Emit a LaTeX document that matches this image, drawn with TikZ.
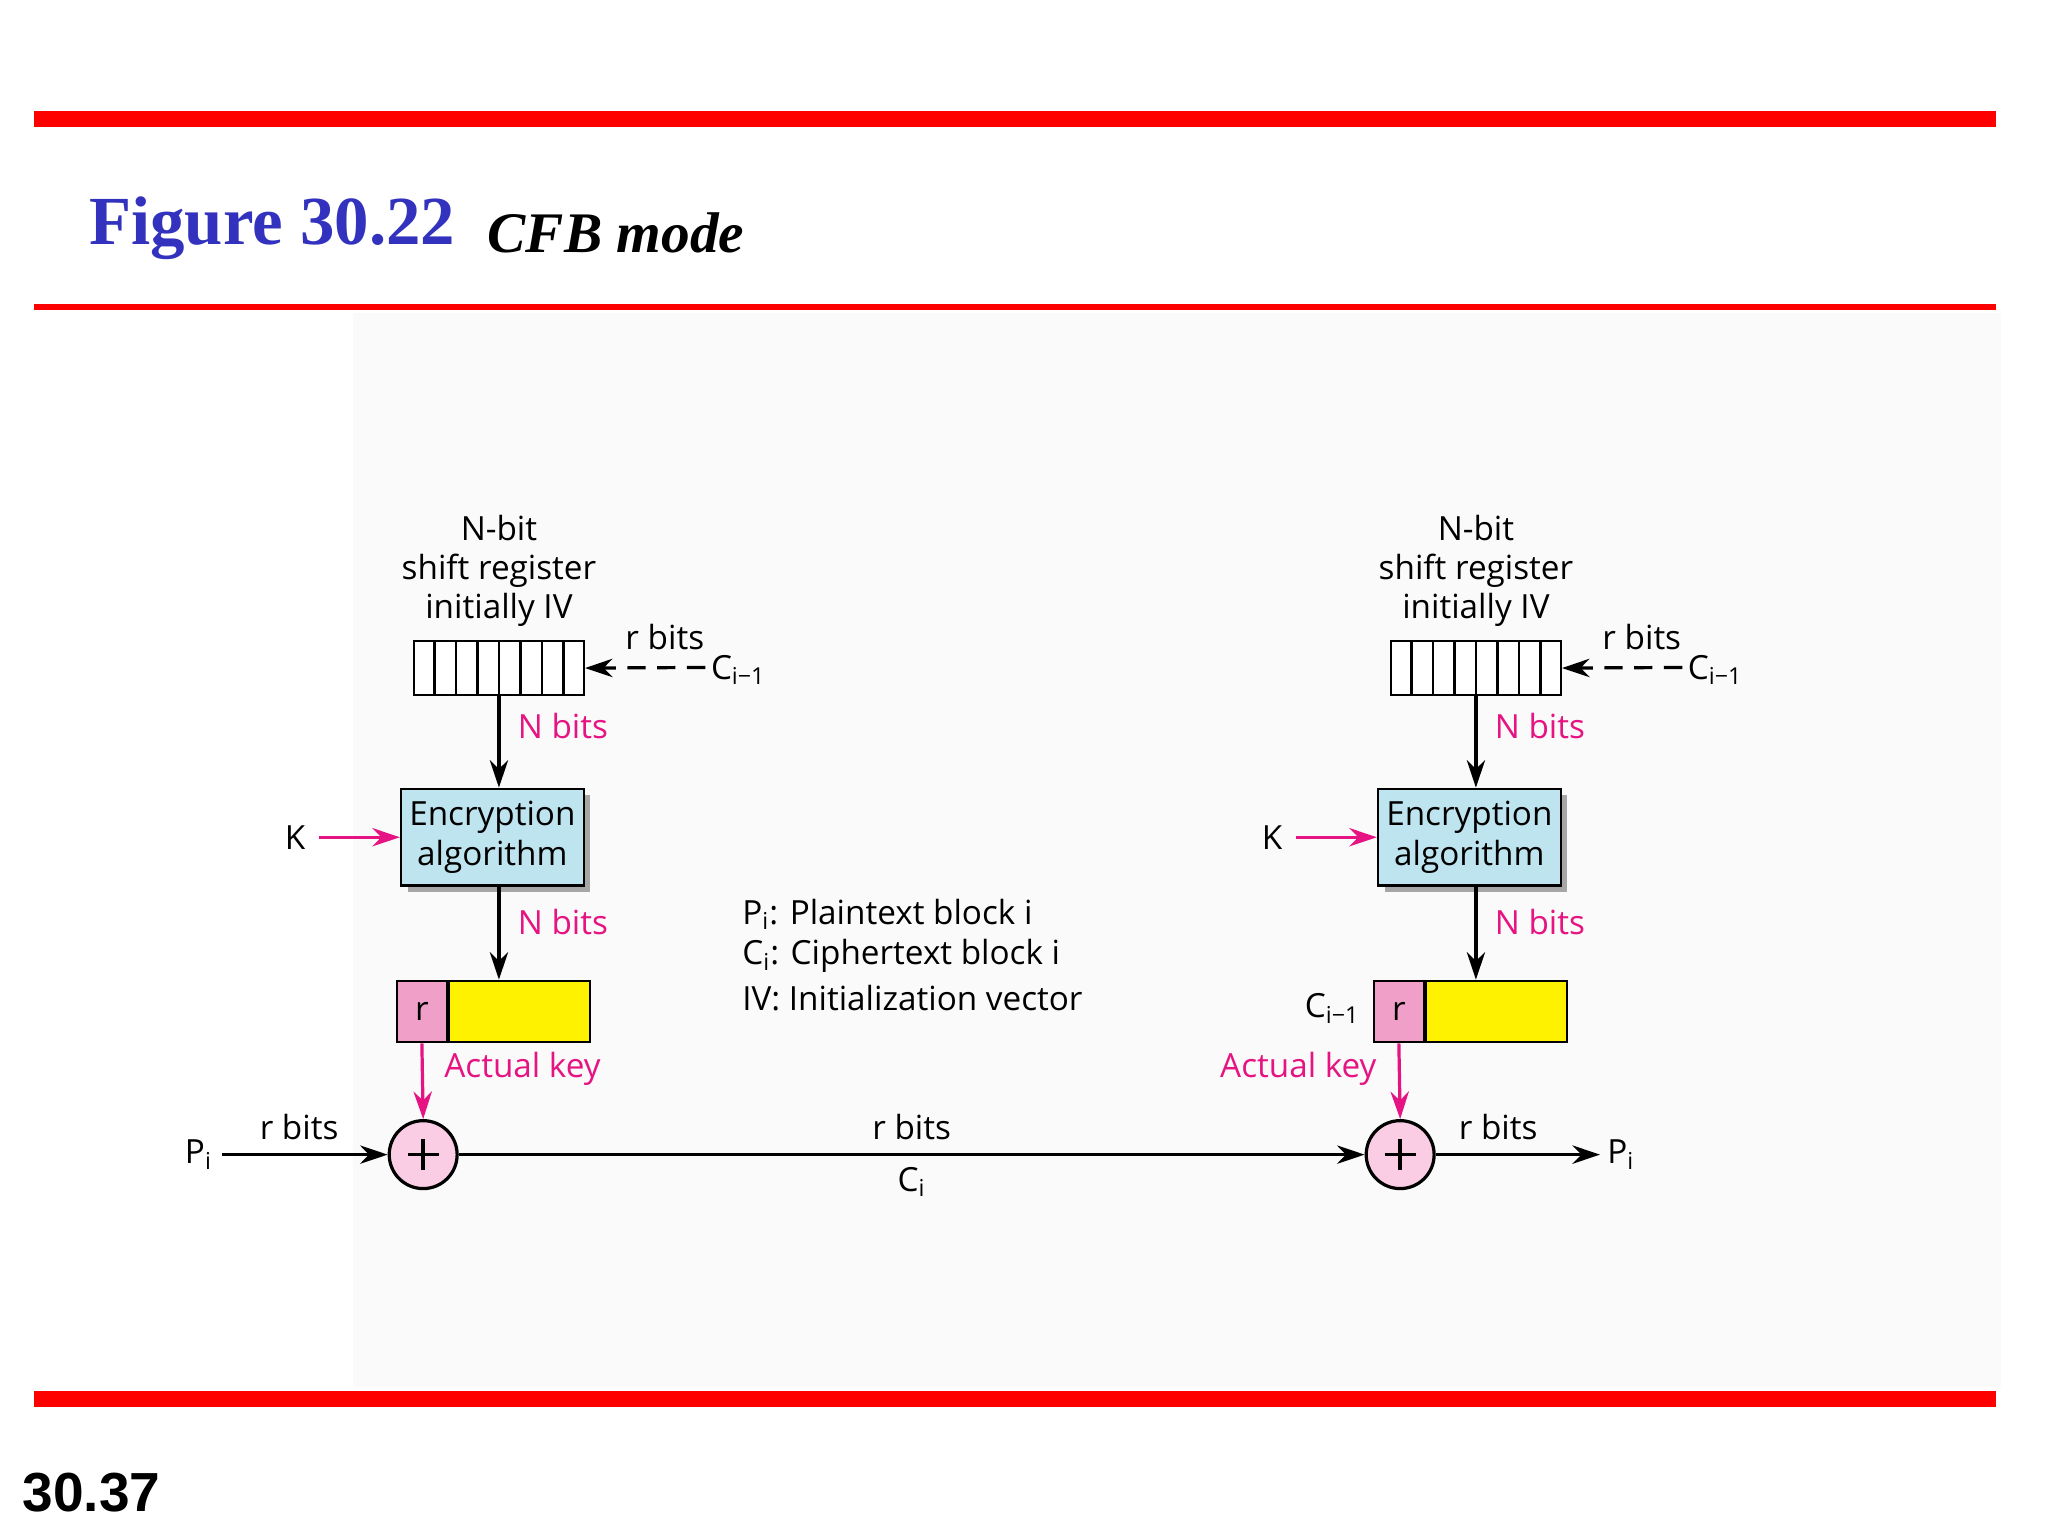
\documentclass[tikz,border=0pt]{standalone}
\usepackage{fontspec}
\setmainfont{Open Sans}
\newfontfamily\tim{Liberation Serif}
\newfontfamily\ari{Liberation Sans}
\usetikzlibrary{arrows.meta,calc}
\definecolor{mag}{RGB}{230,20,130}
\definecolor{ttl}{RGB}{50,50,190}
\definecolor{lblue}{RGB}{190,228,240}
\definecolor{kpink}{RGB}{240,160,200}
\definecolor{xpink}{RGB}{250,205,228}
\begin{document}
\begin{tikzpicture}[x=0.02cm,y=-0.02cm,
 txt/.style={font=\fontsize{14.5}{18}\selectfont,inner sep=0},
 mtxt/.style={txt,text=mag},
 arr/.style={-{Stealth[length=12pt,width=8pt]},line width=1.4pt},
 marr/.style={arr,draw=mag},
 enc/.style={draw,line width=1pt,fill=lblue,minimum width=140*0.02cm,minimum height=74*0.02cm,align=center,font=\fontsize{14.5}{17.5}\selectfont,inner sep=0},
 xor/.style={circle,draw,line width=1.4pt,fill=xpink,minimum size=52*0.02cm,inner sep=0}]
\useasboundingbox (0,0) rectangle (1568,1176);
\fill[gray!4] (270,240) rectangle (1532,1062);
\fill[red] (26,85) rectangle (1528,97);
\fill[red] (26,233) rectangle (1528,237);
\fill[red] (26,1065) rectangle (1528,1077);
\node[anchor=west,inner sep=0,text=ttl,font=\tim\bfseries\fontsize{30}{36}\selectfont] (t1) at (68,175) {Figure 30.22};
\node[anchor=west,inner sep=0,font=\tim\bfseries\itshape\fontsize{25}{30}\selectfont] (t2) at (373,178) {CFB mode};
\node[anchor=west,inner sep=0,font=\ari\bfseries\fontsize{24}{28}\selectfont] (pg) at (17,1143) {30.37};
\foreach \o/\s in {0/L,748/R}{
 \begin{scope}[xshift=\o*0.02cm]
 \node[txt,align=center] (nb\s) at (382,437) {N-bit\\[-1pt]shift register\\[-1pt]initially IV};
 \node[draw,line width=1pt,fill=white,minimum width=130*0.02cm,minimum height=41*0.02cm,inner sep=0] (sr\s) at (382,511.5) {};
 \foreach \i in {1,...,7} \draw[line width=1pt] ($(sr\s.north west)!\i/8!(sr\s.north east)$) -- ($(sr\s.south west)!\i/8!(sr\s.south east)$);
 \coordinate (cs\s) at (540,511);
 \draw[arr,dashed,dash pattern=on 8pt off 5pt] (cs\s) -- (sr\s.east);
 \node[txt] (rb\s) at (509,488) {r bits};
 \node[txt,anchor=west] (ci\s) at (544,513) {C\textsubscript{i\textminus1}};
 \fill[gray!70] (312,609) rectangle (452,683);
 \node[enc] (en\s) at (377,641) {Encryption\\algorithm};
 \draw[arr] (sr\s.south) -- (382,603);
 \node[mtxt] (n1\s) at (431,556) {N bits};
 \node[txt] (k\s) at (226,641) {K};
 \draw[marr] (244,641) -- (en\s.west);
 \node[draw,line width=1pt,fill=kpink,minimum width=38*0.02cm,minimum height=47*0.02cm,txt] (kr\s) at (323,774.5) {r};
 \node[draw,line width=1pt,fill=yellow,minimum width=108*0.02cm,minimum height=47*0.02cm,anchor=west] (ky\s) at (kr\s.east) {};
 \draw[arr] (382,678) -- (382,750);
 \node[mtxt] (n2\s) at (431,706) {N bits};
 \node[xor] (x\s) at (324,884) {};
 \draw[line width=1.6pt] (324,872) -- (324,896) (312,884) -- (336,884);
 \draw[marr] (kr\s.south) -- (x\s.north);
 \end{scope}}
\node[mtxt] (akL) at (400,818) {Actual key};
\node[mtxt] (akR) at (994,818) {Actual key};
\node[txt] (cR) at (1020,772) {C\textsubscript{i\textminus1}};
\node[txt] (piL) at (152,884) {P\textsubscript{i}};
\node[txt] (poR) at (1241,884) {P\textsubscript{i}};
\draw[arr] (170,884) -- (xL.west);
\node[txt] at (229,863) {r bits};
\draw[arr] (xL.east) -- (xR.west);
\node[txt] at (698,863) {r bits};
\node[txt] at (698,905) {C\textsubscript{i}};
\draw[arr] (xR.east) -- (1225,884);
\node[txt] at (1147,863) {r bits};
\node[txt,anchor=west] (lg1) at (568,700) {P\textsubscript{i}: Plaintext block i};
\node[txt,anchor=west] (lg2) at (568,732) {C\textsubscript{i}: Ciphertext block i};
\node[txt,anchor=west] (lg3) at (568,764) {IV: Initialization vector};
\end{tikzpicture}
\end{document}
